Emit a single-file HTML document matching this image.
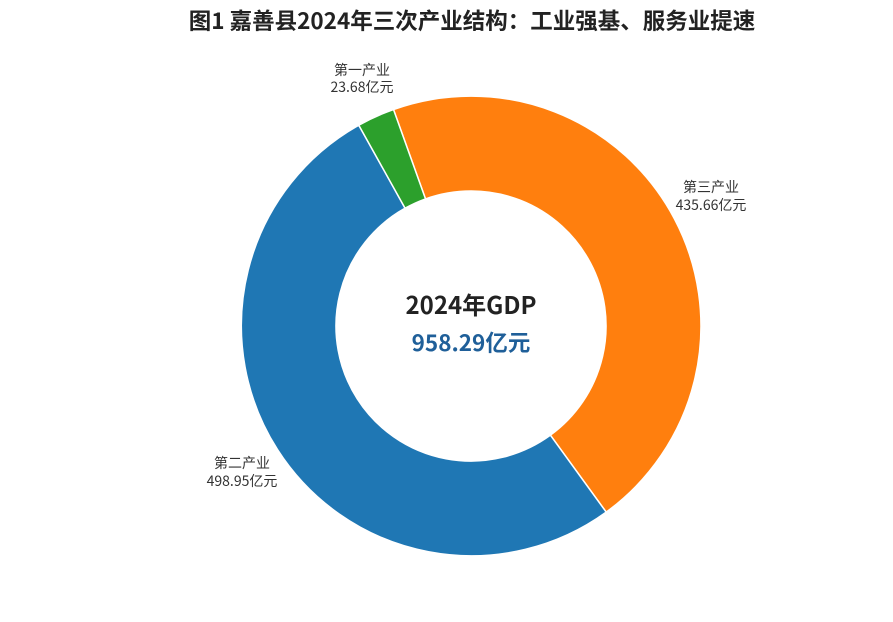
<!DOCTYPE html>
<html><head><meta charset="utf-8"><style>
body{margin:0;background:#fff;width:893px;height:617px;overflow:hidden}
text{font-family:"Noto Sans CJK SC","Liberation Sans",sans-serif}
</style></head><body>
<svg width="893" height="617" viewBox="0 0 893 617">
<text x="472" y="29" text-anchor="middle" font-size="22.5" font-weight="bold" fill="#222">图1  嘉善县2024年三次产业结构：工业强基、服务业提速</text>
<g stroke="#fff" stroke-width="1.5" stroke-linejoin="round">
<path d="M393.5,109.5 A230 230 0 0 1 606.2,512.1 L550.4,435.2 A135 135 0 0 0 425.5,198.9 Z" fill="#ff7f0e"/>
<path d="M606.2,512.1 A230 230 0 1 1 358.8,125.2 L405.1,208.2 A135 135 0 1 0 550.4,435.2 Z" fill="#1f77b4"/>
<path d="M358.8,125.2 A230 230 0 0 1 393.5,109.5 L425.5,198.9 A135 135 0 0 0 405.1,208.2 Z" fill="#2ca02c"/>
</g>
<g font-size="14" fill="#333" text-anchor="middle">
<text x="362" y="75">第一产业</text><text x="362" y="92">23.68亿元</text>
<text x="711" y="192">第三产业</text><text x="711" y="210">435.66亿元</text>
<text x="242" y="468">第二产业</text><text x="242" y="486">498.95亿元</text>
</g>
<text x="471" y="314" text-anchor="middle" font-size="24" font-weight="bold" fill="#222">2024年GDP</text>
<text x="471" y="351" text-anchor="middle" font-size="22.5" font-weight="bold" fill="#1f5f99">958.29亿元</text>
</svg>
</body></html>
